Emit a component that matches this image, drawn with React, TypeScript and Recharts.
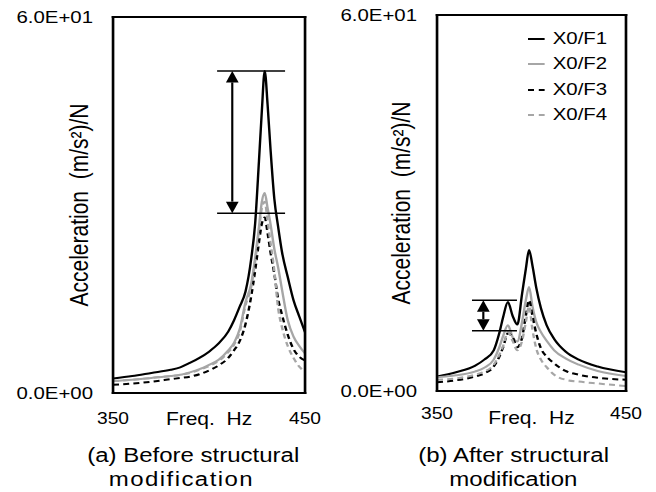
import React from 'react';
import { LineChart, Line, XAxis, YAxis, ReferenceLine, Legend, Label } from 'recharts';

const seriesNames = ['X0/F1', 'X0/F2', 'X0/F3', 'X0/F4'];
const seriesKeys = ['F1', 'F2', 'F3', 'F4'];
const seriesColors = ['#000000', '#a6a6a6', '#000000', '#a6a6a6'];
const seriesDashes = ['', '', '5 3.5', '5 3.5'];

const xTicks = [350, 450];
const yTicks = [0, 60];

// (a) before structural modification
const freqA = [350, 360, 370, 380, 385, 390, 395, 400, 405, 410, 413, 416, 419, 422, 424, 426, 427.5, 429, 430.5, 432, 434, 436, 438, 441, 444, 447, 450];
const beforeF1 = [2.3, 2.7, 3.2, 3.7, 4.1, 4.8, 5.6, 6.6, 7.9, 9.8, 11.6, 13.8, 16.2, 21.5, 27, 37, 45, 51.4, 46, 39, 31, 26.5, 22.5, 18.5, 14.8, 12.2, 9.7];
const beforeF2 = [1.9, 2.1, 2.4, 2.7, 2.9, 3.3, 3.8, 4.5, 5.3, 6.8, 8.0, 10.2, 14.5, 17.5, 21.5, 26.5, 30.5, 31.9, 29.5, 27, 23, 20, 16.5, 11.6, 9.0, 7.5, 6.3];
const beforeF3 = [1.3, 1.5, 1.8, 2.2, 2.4, 2.6, 3.0, 3.6, 4.4, 5.6, 6.8, 8.3, 11, 15.5, 19.5, 24, 27, 28, 25.5, 22.5, 19, 15, 12.5, 9.3, 7, 5.8, 5.2];
const beforeF4 = [1.9, 2.1, 2.4, 2.7, 2.9, 3.2, 3.7, 4.3, 5.1, 6.5, 7.7, 9.8, 14, 17, 21, 26, 29.5, 30.5, 27.5, 24, 19.5, 13.5, 10.5, 7.5, 5.6, 4.2, 3.4];

// (b) after structural modification
const freqB = [350, 360, 370, 375, 380, 383, 385, 387.5, 390, 392.5, 395, 397, 398.7, 400.5, 402.5, 405, 408, 412, 418, 425, 435, 450];
const afterF1 = [2.3, 3.0, 4.0, 5.0, 6.5, 9.3, 11.8, 14.2, 12.0, 10.6, 15.5, 19.5, 22.5, 20, 16.5, 13.2, 10.5, 8.3, 6.3, 5.0, 3.9, 3.0];
const afterF2 = [2.2, 2.5, 3.1, 3.7, 5.0, 7.0, 8.8, 10.5, 8.6, 7.9, 11, 14.5, 16.6, 13.5, 11, 9.4, 8.0, 6.5, 5.2, 4.2, 3.2, 2.4];
const afterF3 = [1.4, 1.7, 2.3, 2.8, 3.9, 5.5, 7.0, 9.2, 8.6, 7.0, 8.5, 12.0, 14.5, 12.0, 9.2, 6.8, 5.5, 4.4, 3.2, 2.6, 2.1, 1.8];
const afterF4 = [1.8, 2.0, 2.6, 3.1, 4.2, 5.8, 7.2, 9.4, 8.0, 6.5, 8.0, 11.0, 13.5, 9.8, 6.8, 5.0, 3.8, 2.6, 1.8, 1.5, 1.2, 0.8];

// annotation: [line start Hz, line end Hz, arrow Hz, upper value, lower value]
const arrowBefore = [404.2, 439.6, 412.1, 51.4, 28.7];
const arrowAfter = [368.5, 392.3, 374.5, 14.5, 9.6];

const buildRows = (freq: number[], cols: number[][]) =>
  freq.map((f, i) => {
    const row: any = { f };
    seriesKeys.forEach((k, j) => (row[k] = cols[j][i]));
    return row;
  });

const rowsA = buildRows(freqA, [beforeF1, beforeF2, beforeF3, beforeF4]);
const rowsB = buildRows(freqB, [afterF1, afterF2, afterF3, afterF4]);

const sciFormat = (v: number) => {
  const [m, e] = v.toExponential(1).split('e');
  return `${m}E${e[0]}${e.slice(1).padStart(2, '0')}`;
};

const SX = 1.2; // the whole figure is stretched horizontally
const FONT = '"Liberation Sans", Arial, sans-serif';
const CHART_H = 492;
const FRAME_W = 2.2;
const boxLine = { stroke: '#000', strokeWidth: FRAME_W, strokeLinecap: 'square' as const };

const ArrowShape = (props: any) => {
  const { x1, y1, y2 } = props;
  const top = Math.min(y1, y2);
  const bot = Math.max(y1, y2);
  const h = 11.5;
  const w = 5.3;
  return (
    <g>
      <line x1={x1} x2={x1} y1={top + h} y2={bot - h} stroke="#000" strokeWidth={1.8} />
      <polygon points={`${x1},${top} ${x1 - w},${top + h} ${x1 + w},${top + h}`} fill="#000" />
      <polygon points={`${x1},${bot} ${x1 - w},${bot - h} ${x1 + w},${bot - h}`} fill="#000" />
    </g>
  );
};

const LegendBox = () => (
  <div style={{ fontFamily: FONT, fontSize: 17, color: '#000' }}>
    {seriesNames.map((n, i) => (
      <div key={n} style={{ display: 'flex', alignItems: 'center', height: 25.5 }}>
        <svg width={14} height={6} style={{ marginRight: 6.6 }}>
          <line x1={0} x2={14} y1={3} y2={3} stroke={seriesColors[i]} strokeWidth={1.8}
            strokeDasharray={seriesDashes[i] ? '5 4' : undefined} />
        </svg>
        <span>{n}</span>
      </div>
    ))}
  </div>
);

interface PanelProps {
  rows: any[];
  left: number;
  width: number;
  margin: { top: number; right: number; bottom: number; left: number };
  yAxisWidth: number;
  xAxisHeight: number;
  xTickMargin: number;
  yLabelOffset: number;
  arrow: number[];
  legend?: boolean;
}

const Panel: React.FC<PanelProps> = ({ rows, left, width, margin, yAxisWidth, xAxisHeight, xTickMargin, yLabelOffset, arrow, legend }) => {
  const [xa, xb, xArrow, yHi, yLo] = arrow;
  return (
    <div style={{ position: 'absolute', left, top: 0, width, height: CHART_H }}>
      <LineChart width={width} height={CHART_H} data={rows} margin={margin}>
        <XAxis dataKey="f" type="number" domain={[350, 450]} ticks={xTicks} interval={0} allowDataOverflow
          axisLine={boxLine} tickLine={false} tickSize={0} tickMargin={xTickMargin} height={xAxisHeight}
          tick={{ fill: '#000', fontSize: 16 }}>
          <Label value={'Freq.\u00a0\u00a0Hz'} position="center" fill="#000" fontSize={17.5} />
        </XAxis>
        <XAxis xAxisId="top" orientation="top" dataKey="f" type="number" domain={[350, 450]} allowDataOverflow
          axisLine={boxLine} tick={false} tickLine={false} height={1} />
        <YAxis type="number" domain={[0, 60]} ticks={yTicks} interval={0} allowDataOverflow
          axisLine={boxLine} tickLine={false} tickSize={0} tickMargin={16.7} width={yAxisWidth}
          tickFormatter={sciFormat} tick={{ fill: '#000', fontSize: 17 }}>
          <Label value={'Acceleration\u00a0\u00a0(m/s\u00b2)/N'} angle={-90} position="insideLeft" offset={yLabelOffset}
            fill="#000" fontSize={21} style={{ textAnchor: 'middle' }} />
        </YAxis>
        <YAxis yAxisId="right" orientation="right" type="number" domain={[0, 60]} allowDataOverflow
          axisLine={boxLine} tick={false} tickLine={false} width={1} />
        {seriesKeys.map((k, i) => (
          <Line key={k} dataKey={k} name={seriesNames[i]} type="monotone" stroke={seriesColors[i]} strokeWidth={2}
            strokeDasharray={seriesDashes[i] || undefined} dot={false} activeDot={false} isAnimationActive={false} />
        ))}
        <ReferenceLine segment={[{ x: xa, y: yHi }, { x: xb, y: yHi }]} stroke="#000" strokeWidth={1.5} />
        <ReferenceLine segment={[{ x: xa, y: yLo }, { x: xb, y: yLo }]} stroke="#000" strokeWidth={1.5} />
        <ReferenceLine segment={[{ x: xArrow, y: yHi }, { x: xArrow, y: yLo }]} shape={ArrowShape} />
        {legend && (
          <Legend layout="vertical" align="center" verticalAlign="middle"
            wrapperStyle={{ left: 167, top: 25.75, width: 'auto', height: 'auto' }} content={() => <LegendBox />} />
        )}
      </LineChart>
    </div>
  );
};

const captionStyle = (cx: number, top: number, spacing = 0): React.CSSProperties => ({
  position: 'absolute', left: cx - 150, width: 300, top, textAlign: 'center',
  fontSize: 20, lineHeight: '20px', color: '#000', whiteSpace: 'nowrap', letterSpacing: spacing,
});

export default function App() {
  return (
    <div style={{ position: 'absolute', left: 0, top: 0, width: 656, height: 492, background: '#fff', overflow: 'hidden' }}>
      <div style={{ position: 'absolute', left: 0, top: 0, width: 656 / SX, height: 492, transform: `scaleX(${SX})`, transformOrigin: '0 0', fontFamily: FONT }}>
        <Panel rows={rowsA} left={0} width={273} margin={{ top: 16, right: 17.8, bottom: 47, left: 0 }}
          yAxisWidth={94.2} xAxisHeight={52} xTickMargin={20} yLabelOffset={65.8} arrow={arrowBefore} />
        <Panel rows={rowsB} left={273} width={273.67} margin={{ top: 14, right: 24, bottom: 47, left: 0 }}
          yAxisWidth={91.2} xAxisHeight={54} xTickMargin={17} yLabelOffset={61} arrow={arrowAfter} legend />
        <div style={captionStyle(161, 445)}>(a) Before structural</div>
        <div style={captionStyle(151.2, 468.7, 1.2)}>modification</div>
        <div style={captionStyle(428, 445)}>(b) After structural</div>
        <div style={captionStyle(427.8, 468.7)}>modification</div>
      </div>
    </div>
  );
}
